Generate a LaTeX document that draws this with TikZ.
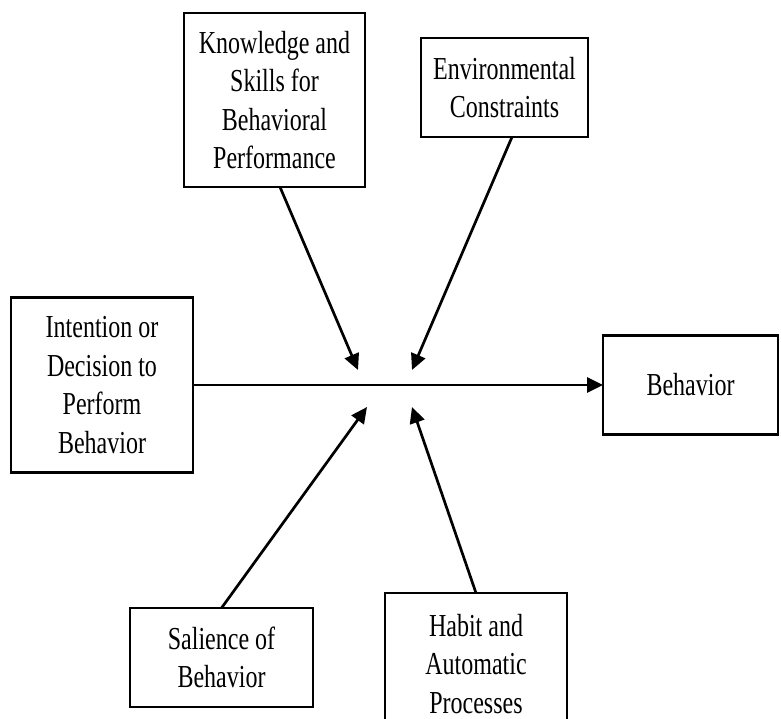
\documentclass[tikz,border=0pt]{standalone}
\usepackage{fontspec}
\setmainfont{Liberation Serif}[FakeStretch=0.75]
\usetikzlibrary{arrows.meta}

\begin{document}
\begin{tikzpicture}[x=1pt,y=-1pt,
	box/.style={draw,line width=2.7pt,align=center,inner sep=0pt,outer sep=0pt,
		font=\fontsize{32}{38.6}\selectfont},
	link/.style={line width=2.7pt,-{Triangle[length=16pt,width=15pt]}}]
	% Page frame
	\clip (0,0) rectangle (781,719);
	\fill[white] (0,0) rectangle (781,719);
	% Draw the boxes
	\node[box,minimum width=181pt,minimum height=174pt] (know) at (274.5,100)
		{Knowledge and\\Skills for\\Behavioral\\Performance};
	\node[box,minimum width=167pt,minimum height=99pt] (env) at (504.5,87.5)
		{Environmental\\Constraints};
	\node[box,minimum width=182pt,minimum height=175pt] (intent) at (102,385)
		{Intention or\\Decision to\\Perform\\Behavior};
	\node[box,minimum width=175pt,minimum height=99pt] (beh) at (690.5,385)
		{Behavior};
	\node[box,minimum width=183pt,minimum height=99pt] (sal) at (221.5,657.5)
		{Salience of\\Behavior};
	\node[box,minimum width=182pt,minimum height=142pt] (habit) at (476,664)
		{Habit and\\Automatic\\Processes};
	% Points where the side arrows stop
	\coordinate (tipA) at (358,370);
	\coordinate (tipB) at (412,370);
	\coordinate (tipC) at (367,407);
	\coordinate (tipD) at (412,407);
	% Draw the arrows
	\draw[link] (intent.east) -- (beh.west);
	\draw[link] ([xshift=5.5pt]know.south) -- (tipA);
	\draw[link] ([xshift=7.5pt]env.south) -- (tipB);
	\draw[link] (sal.north) -- (tipC);
	\draw[link] (habit.north) -- (tipD);
\end{tikzpicture}
\end{document}
